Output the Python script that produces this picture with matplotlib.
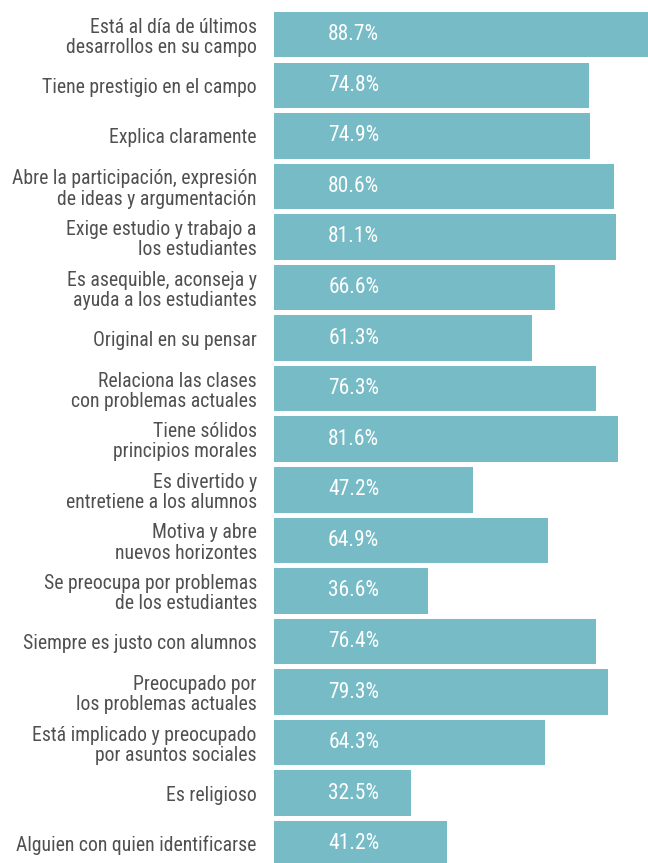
import matplotlib.pyplot as plt
import numpy as np

labels = [
    "Está al día de últimos\ndesarrollos en su campo",
    "Tiene prestigio en el campo",
    "Explica claramente",
    "Abre la participación, expresión\nde ideas y argumentación",
    "Exige estudio y trabajo a\nlos estudiantes",
    "Es asequible, aconseja y\nayuda a los estudiantes",
    "Original en su pensar",
    "Relaciona las clases\ncon problemas actuales",
    "Tiene sólidos\nprincipios morales",
    "Es divertido y\nentretiene a los alumnos",
    "Motiva y abre\nnuevos horizontes",
    "Se preocupa por problemas\nde los estudiantes",
    "Siempre es justo con alumnos",
    "Preocupado por\nlos problemas actuales",
    "Está implicado y preocupado\npor asuntos sociales",
    "Es religioso",
    "Alguien con quien identificarse",
]
values = [88.7, 74.8, 74.9, 80.6, 81.1, 66.6, 61.3, 76.3, 81.6,
          47.2, 64.9, 36.6, 76.4, 79.3, 64.3, 32.5, 41.2]

bar_color = "#76bbc6"
font = ["Roboto Condensed", "DejaVu Sans"]

fig = plt.figure(figsize=(6.48, 8.63), dpi=100)
ax = fig.add_axes([273.5 / 648, 0, 1 - 273.5 / 648, 1])

y = np.arange(len(values))
ax.barh(y, values, height=0.9, color=bar_color)

# value labels sit at a fixed spot inside each bar
for yi, v in zip(y, values):
    ax.text(19, yi, "%.1f%%" % v, ha="center", va="center",
            color="white", fontsize=15.5, family=font)

ax.set_xlim(0, 88.7)
ax.set_ylim(len(values) - 1 + 0.381, -0.687)
ax.set_yticks(y)
ax.set_yticklabels(labels, family=font, fontsize=14.2, color="#505050",
                   linespacing=1.08)
ax.tick_params(axis="y", length=0, pad=12)
ax.set_xticks([])
for s in ax.spines.values():
    s.set_visible(False)

fig.savefig("out.png", dpi=100)
